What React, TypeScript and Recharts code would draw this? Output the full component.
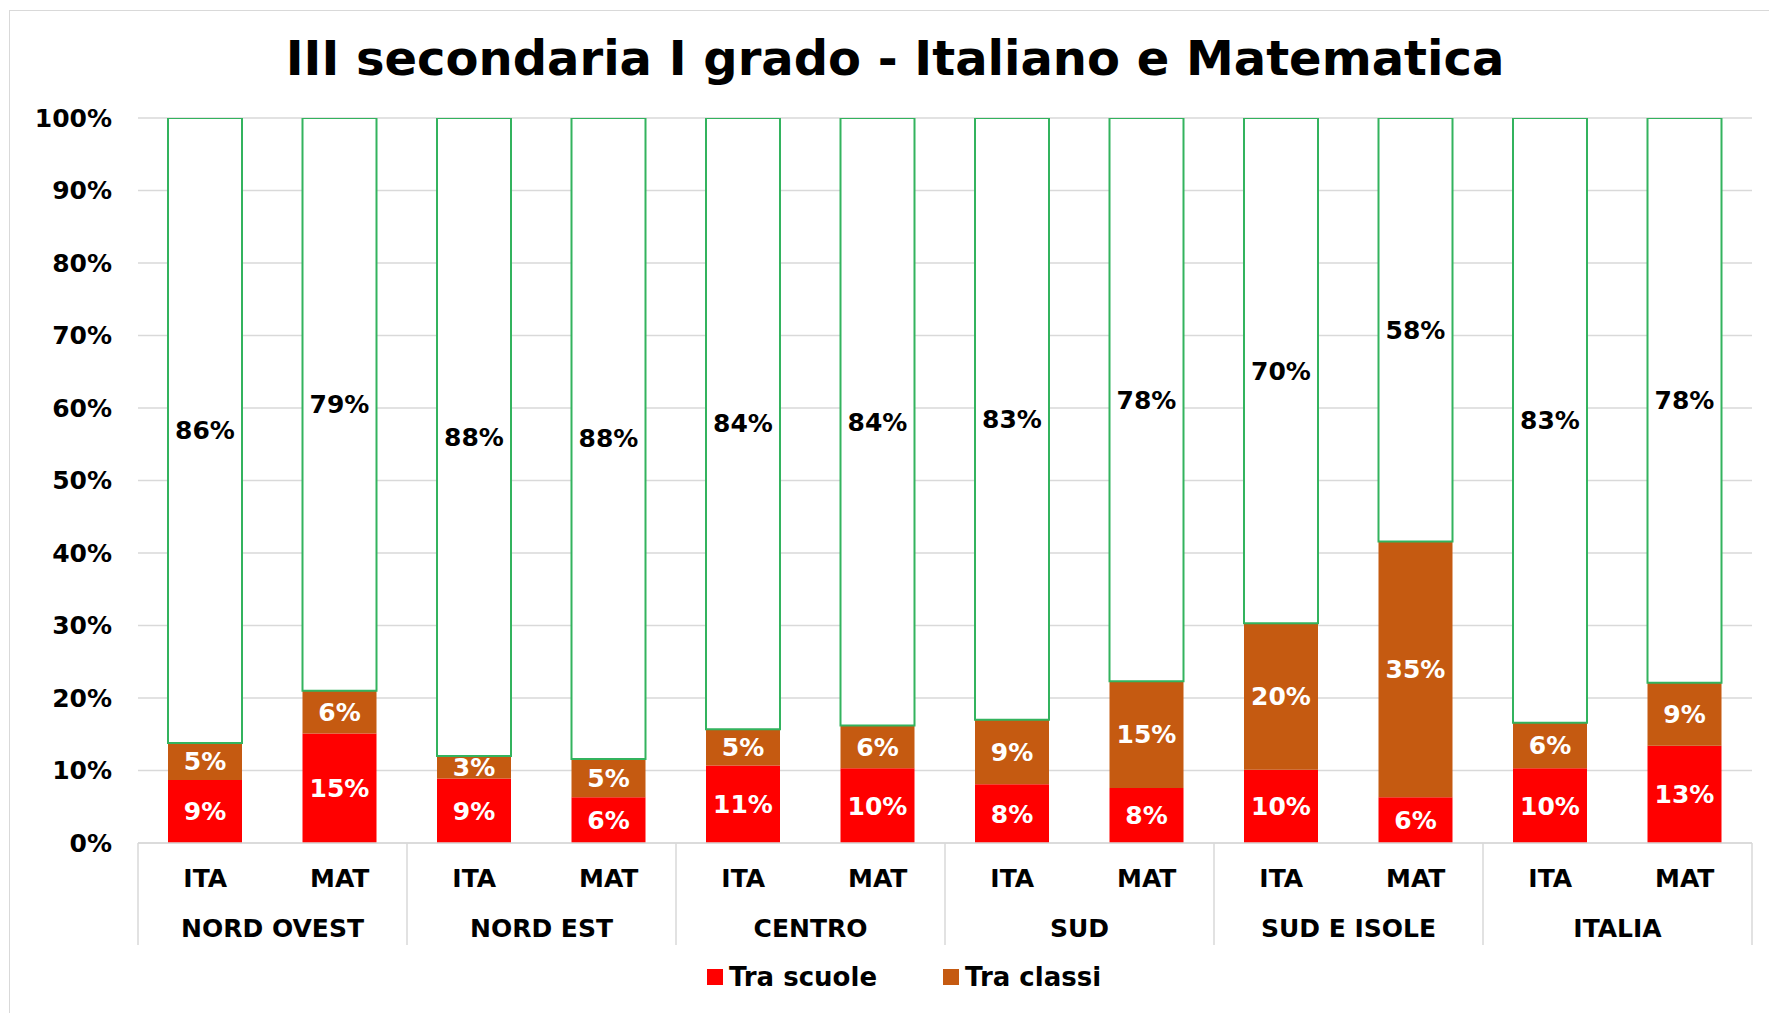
import React from 'react'
import { BarChart, Bar, XAxis, YAxis, CartesianGrid, Legend, LabelList } from 'recharts'

const C = {
  red: '#ff0000', brown: '#c55a11', green: '#33b35e',
  grid: '#d9d9d9', text: '#000000',
}
const FONT = '"DejaVu Sans", Verdana, sans-serif'

const W = 1769
const H = 1013
const LEFT = 138
const RIGHT = 17

// categories
const groups = ['NORD OVEST', 'NORD EST', 'CENTRO', 'SUD', 'SUD E ISOLE', 'ITALIA']
const subjects = ['ITA', 'MAT']

// values in %, in group/subject order
const traScuole = [8.7, 15.1, 8.9, 6.3, 10.7, 10.3, 8.1, 7.6, 10.1, 6.3, 10.3, 13.4]
const traClassi = [5.1, 5.9, 3.1, 5.3, 5.0, 5.9, 8.9, 14.7, 20.2, 35.3, 6.3, 8.7]
const dentroClassi = [86.2, 79.0, 88.0, 88.4, 84.3, 83.8, 83.0, 77.7, 69.7, 58.4, 83.4, 77.9]

const yTicks = [0, 10, 20, 30, 40, 50, 60, 70, 80, 90, 100]
const legendOrder = ['Tra scuole', 'Tra classi']

const data = groups.flatMap((g, gi) =>
  subjects.map((s, si) => {
    const i = gi * subjects.length + si
    return { group: g, subj: s, scuole: traScuole[i], classi: traClassi[i], dentro: dentroClassi[i] }
  })
)

const catW = (W - LEFT - RIGHT) / data.length
const pct = (v: any) => `${Math.round(Number(v))}%`

function MultiTick(props: any) {
  const { x, y, index, payload } = props
  const row = data[index]
  const first = index % subjects.length === 0
  const last = index === data.length - 1
  return (
    <g>
      <text x={x} y={y + 44} textAnchor="middle" fontFamily={FONT} fontWeight="bold" fontSize={25} fill={C.text}>
        {payload.value}
      </text>
      {first && (
        <>
          <line x1={x - catW / 2} x2={x - catW / 2} y1={y} y2={y + 102} stroke={C.grid} strokeWidth={1.5} />
          <text x={x + catW / 2} y={y + 94} textAnchor="middle" fontFamily={FONT} fontWeight="bold" fontSize={25} fill={C.text}>
            {row.group}
          </text>
        </>
      )}
      {last && <line x1={x + catW / 2} x2={x + catW / 2} y1={y} y2={y + 102} stroke={C.grid} strokeWidth={1.5} />}
    </g>
  )
}

function LegendBox(props: any) {
  const items = (props.payload || [])
    .filter((p: any) => p.type !== 'none')
    .sort((a: any, b: any) => legendOrder.indexOf(a.value) - legendOrder.indexOf(b.value))
  return (
    <div style={{ display: 'flex', justifyContent: 'center', gap: 66, paddingLeft: 56, height: 40, alignItems: 'center' }}>
      {items.map((p: any) => (
        <div key={p.value} style={{ display: 'flex', alignItems: 'center', gap: 6 }}>
          <div style={{ width: 16, height: 16, background: p.color }} />
          <span style={{ fontFamily: FONT, fontWeight: 'bold', fontSize: 26, color: C.text }}>{p.value}</span>
        </div>
      ))}
    </div>
  )
}

export default function App() {
  return (
    <div style={{ position: 'absolute', left: 0, top: 0, width: W, height: H, background: '#fff', overflow: 'hidden' }}>
      <div style={{ position: 'absolute', left: 9, top: 10, width: W, height: H, border: `1.5px solid ${C.grid}` }} />
      <div style={{
        position: 'absolute', left: 0, width: 1790, top: 30, textAlign: 'center',
        fontFamily: FONT, fontWeight: 'bold', fontSize: 48, color: C.text,
      }}>
        III secondaria I grado - Italiano e Matematica
      </div>
      <BarChart width={W} height={H} data={data} margin={{ top: 118, right: RIGHT, left: 0, bottom: 16 }}>
        <CartesianGrid vertical={false} stroke={C.grid} strokeWidth={1.5} />
        <XAxis dataKey="subj" interval={0} height={114} tick={<MultiTick />} tickLine={false}
          tickSize={0} tickMargin={0} stroke={C.grid} strokeWidth={1.5} />
        <YAxis domain={[0, 100]} allowDataOverflow ticks={yTicks} width={LEFT} axisLine={false} tickLine={false}
          tickFormatter={v => `${v}%`} tickMargin={20}
          tick={{ fill: C.text, fontFamily: FONT, fontWeight: 'bold', fontSize: 25 }} />
        <Legend content={<LegendBox />} verticalAlign="bottom" height={40} />
        <Bar dataKey="scuole" name="Tra scuole" stackId="a" fill={C.red} barSize={74} isAnimationActive={false}>
          <LabelList dataKey="scuole" position="center" formatter={pct} fill="#fff"
            style={{ fontFamily: FONT, fontWeight: 'bold', fontSize: 25 }} />
        </Bar>
        <Bar dataKey="classi" name="Tra classi" stackId="a" fill={C.brown} barSize={74} isAnimationActive={false}>
          <LabelList dataKey="classi" position="center" formatter={pct} fill="#fff"
            style={{ fontFamily: FONT, fontWeight: 'bold', fontSize: 25 }} />
        </Bar>
        <Bar dataKey="dentro" name="Dentro le classi" stackId="a" fill="#fff" stroke={C.green} strokeWidth={2}
          barSize={74} legendType="none" isAnimationActive={false}>
          <LabelList dataKey="dentro" position="center" formatter={pct} fill={C.text}
            style={{ fontFamily: FONT, fontWeight: 'bold', fontSize: 25 }} />
        </Bar>
      </BarChart>
    </div>
  )
}
